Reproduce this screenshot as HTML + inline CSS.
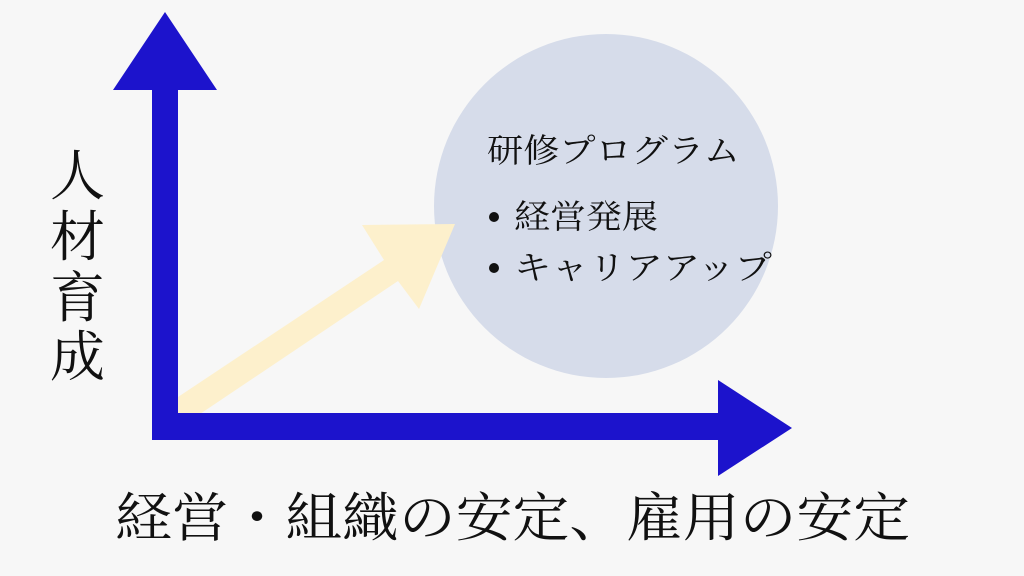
<!DOCTYPE html>
<html><head><meta charset="utf-8"><style>
html,body{margin:0;padding:0;background:#f7f7f7;}
body{width:1024px;height:576px;overflow:hidden;position:relative;}
svg{position:absolute;left:0;top:0;}
.t{font-family:"Liberation Serif","Noto Serif CJK SC",serif;fill:#111;}
</style></head><body>
<svg width="1024" height="576" viewBox="0 0 1024 576">
<rect width="1024" height="576" fill="#f7f7f7"/>
<circle cx="606" cy="206" r="172" fill="#d6dcea"/>
<polygon points="178,397 384,260 362,225 455,224 419,309 398,281 197,416 178,416" fill="#fdf0cc"/>
<polygon points="152,90 113,90 165,12 217,90 178,90 178,413 718,413 718,380 792,428 718,476 718,440 152,440" fill="#1c13cc"/>
<text class="t" x="487" y="162" font-size="33" textLength="253" lengthAdjust="spacingAndGlyphs">研修プログラム</text>
<circle cx="494" cy="217" r="5" fill="#111"/>
<text class="t" x="514" y="228" font-size="33" textLength="144" lengthAdjust="spacingAndGlyphs">経営発展</text>
<circle cx="494" cy="268" r="5" fill="#111"/>
<text class="t" x="514" y="279" font-size="33" textLength="258" lengthAdjust="spacingAndGlyphs">キャリアアップ</text>
<text class="t" x="50" y="195" font-size="55">人</text>
<text class="t" x="50" y="256" font-size="55">材</text>
<text class="t" x="50" y="317" font-size="55">育</text>
<text class="t" x="50" y="376" font-size="55">成</text>
<text class="t" x="115" y="536" font-size="53" textLength="795" lengthAdjust="spacingAndGlyphs">経営・組織の安定、雇用の安定</text>
</svg>
</body></html>
